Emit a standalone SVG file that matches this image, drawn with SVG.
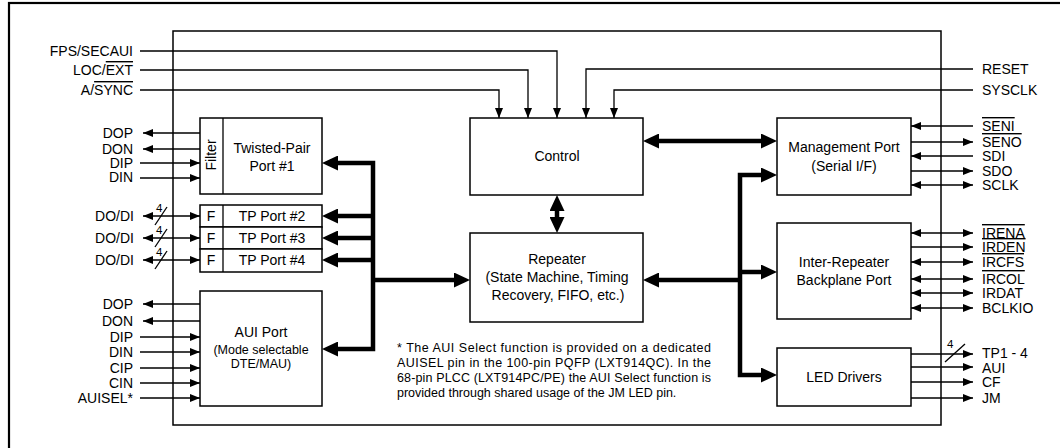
<svg xmlns="http://www.w3.org/2000/svg" width="1060" height="448" viewBox="0 0 1060 448">
<defs>
<style>
text{font-family:"Liberation Sans",Arial,sans-serif;fill:#000}
.lbl{font-size:14px}
.lr{font-size:14px;text-anchor:end}
.bx{font-size:14px;text-anchor:middle}
.sm{font-size:12.5px;text-anchor:middle}
.note{font-size:12.5px}
.n4{font-size:11.5px}
.box{fill:#fff;stroke:#000;stroke-width:1.5}
.thin{fill:none;stroke:#000;stroke-width:1.3}
.thick{fill:none;stroke:#000;stroke-width:4.5}
.ol{text-decoration:overline}
</style>
<marker id="a" viewBox="0 0 10 8" refX="10" refY="4" markerWidth="10" markerHeight="8" markerUnits="userSpaceOnUse" orient="auto-start-reverse"><path d="M0,0 L10,4 L0,8 z" fill="#000"/></marker>
<marker id="A" viewBox="0 0 16 15" refX="8" refY="7.5" markerWidth="16" markerHeight="15" markerUnits="userSpaceOnUse" orient="auto-start-reverse"><path d="M0,0 L16,7.5 L0,15 z" fill="#000"/></marker>
</defs>
<rect width="1060" height="448" fill="#fff"/>
<rect id="frame" x="9" y="3" width="1100" height="500" fill="none" stroke="#000" stroke-width="2.2"/>
<rect id="chip" x="173" y="31" width="768" height="394" fill="none" stroke="#000" stroke-width="1.5"/>

<g id="connectors">
  <path class="thin" d="M140,51 H557 V118" marker-end="url(#a)"/>
  <path class="thin" d="M140,70 H528 V118" marker-end="url(#a)"/>
  <path class="thin" d="M140,90 H499 V118" marker-end="url(#a)"/>
  <path class="thin" d="M973,69 H586 V118" marker-end="url(#a)"/>
  <path class="thin" d="M973,90 H614 V118" marker-end="url(#a)"/>
  <path class="thin" d="M200,133 H143" marker-end="url(#a)"/>
  <path class="thin" d="M200,149 H143" marker-end="url(#a)"/>
  <path class="thin" d="M140,163 H200" marker-end="url(#a)"/>
  <path class="thin" d="M140,178 H200" marker-end="url(#a)"/>
  <path class="thin" d="M143,216 H200" marker-start="url(#a)" marker-end="url(#a)"/>
  <path class="thin" d="M143,238 H200" marker-start="url(#a)" marker-end="url(#a)"/>
  <path class="thin" d="M143,260 H200" marker-start="url(#a)" marker-end="url(#a)"/>
  <line class="thin" x1="155" y1="225" x2="167" y2="207"/>
  <line class="thin" x1="155" y1="247" x2="167" y2="229"/>
  <line class="thin" x1="155" y1="269" x2="167" y2="251"/>
  <path class="thin" d="M200,304 H143" marker-end="url(#a)"/>
  <path class="thin" d="M200,321 H143" marker-end="url(#a)"/>
  <path class="thin" d="M140,337 H200" marker-end="url(#a)"/>
  <path class="thin" d="M140,352 H200" marker-end="url(#a)"/>
  <path class="thin" d="M140,368 H200" marker-end="url(#a)"/>
  <path class="thin" d="M140,383 H200" marker-end="url(#a)"/>
  <path class="thin" d="M140,398 H200" marker-end="url(#a)"/>
  <path class="thin" d="M973,126 H911" marker-end="url(#a)"/>
  <path class="thin" d="M911,142 H973" marker-end="url(#a)"/>
  <path class="thin" d="M973,156 H911" marker-end="url(#a)"/>
  <path class="thin" d="M911,171 H973" marker-end="url(#a)"/>
  <path class="thin" d="M911,185 H973" marker-start="url(#a)" marker-end="url(#a)"/>
  <path class="thin" d="M911,233 H973" marker-start="url(#a)" marker-end="url(#a)"/>
  <path class="thin" d="M911,247 H973" marker-end="url(#a)"/>
  <path class="thin" d="M911,262 H973" marker-start="url(#a)" marker-end="url(#a)"/>
  <path class="thin" d="M911,279 H973" marker-start="url(#a)" marker-end="url(#a)"/>
  <path class="thin" d="M911,293 H973" marker-start="url(#a)" marker-end="url(#a)"/>
  <path class="thin" d="M911,308 H973" marker-start="url(#a)" marker-end="url(#a)"/>
  <path class="thin" d="M911,354 H973" marker-end="url(#a)"/>
  <path class="thin" d="M911,367 H973" marker-end="url(#a)"/>
  <path class="thin" d="M911,382 H973" marker-end="url(#a)"/>
  <path class="thin" d="M911,398 H973" marker-end="url(#a)"/>
  <line class="thin" x1="945" y1="362" x2="965" y2="344"/>
  <path class="thick" d="M330,163 H373 V349 H330" marker-start="url(#A)" marker-end="url(#A)"/>
  <path class="thick" d="M373,216 H330" marker-end="url(#A)"/>
  <path class="thick" d="M373,238 H330" marker-end="url(#A)"/>
  <path class="thick" d="M373,260 H330" marker-end="url(#A)"/>
  <path class="thick" d="M373,280 H462" marker-end="url(#A)"/>
  <path class="thick" d="M740,280 H651" marker-end="url(#A)"/>
  <path class="thick" d="M769,175 H740 V375 H769" marker-start="url(#A)" marker-end="url(#A)"/>
  <path class="thick" d="M740,272 H769" marker-end="url(#A)"/>
  <path class="thick" d="M651,141 H769" marker-start="url(#A)" marker-end="url(#A)"/>
  <path class="thick" d="M557,203 V225" marker-start="url(#A)" marker-end="url(#A)"/>
</g>

<g id="tp1">
  <rect class="box" x="200" y="118" width="122" height="76"/>
  <line class="thin" x1="223" y1="118" x2="223" y2="194" stroke-width="1.5"/>
  <text class="bx" transform="translate(216,155) rotate(-90)">Filter</text>
  <text class="bx" x="272" y="153">Twisted-Pair</text>
  <text class="bx" x="272" y="171">Port #1</text>
</g>
<g id="tp2">
  <rect class="box" x="200" y="205" width="122" height="22"/>
  <line class="thin" x1="223" y1="205" x2="223" y2="227" stroke-width="1.5"/>
  <text class="bx" x="211" y="221">F</text>
  <text class="bx" x="272" y="221">TP Port #2</text>
</g>
<g id="tp3">
  <rect class="box" x="200" y="227" width="122" height="22"/>
  <line class="thin" x1="223" y1="227" x2="223" y2="249" stroke-width="1.5"/>
  <text class="bx" x="211" y="243">F</text>
  <text class="bx" x="272" y="243">TP Port #3</text>
</g>
<g id="tp4">
  <rect class="box" x="200" y="249" width="122" height="23"/>
  <line class="thin" x1="223" y1="249" x2="223" y2="272" stroke-width="1.5"/>
  <text class="bx" x="211" y="265">F</text>
  <text class="bx" x="272" y="265">TP Port #4</text>
</g>
<g id="aui">
  <rect class="box" x="200" y="291" width="122" height="115"/>
  <text class="bx" x="261" y="337">AUI Port</text>
  <text class="sm" x="261" y="354">(Mode selectable</text>
  <text class="sm" x="261" y="368">DTE/MAU)</text>
</g>
<g id="control">
  <rect class="box" x="470" y="118" width="173" height="77"/>
  <text class="bx" x="557" y="161">Control</text>
</g>
<g id="repeater">
  <rect class="box" x="470" y="233" width="173" height="89"/>
  <text class="bx" x="557" y="264">Repeater</text>
  <text class="bx" x="557" y="282">(State Machine, Timing</text>
  <text class="bx" x="558" y="300">Recovery, FIFO, etc.)</text>
</g>
<g id="mgmt">
  <rect class="box" x="777" y="118" width="134" height="77"/>
  <text class="bx" x="844" y="152">Management Port</text>
  <text class="bx" x="844" y="171">(Serial I/F)</text>
</g>
<g id="irb">
  <rect class="box" x="777" y="223" width="134" height="96"/>
  <text class="bx" x="844" y="267">Inter-Repeater</text>
  <text class="bx" x="844" y="285">Backplane Port</text>
</g>
<g id="led">
  <rect class="box" x="777" y="348" width="134" height="58"/>
  <text class="bx" x="844" y="382">LED Drivers</text>
</g>

<g id="labels">
  <text class="lr" x="133" y="56">FPS/SECAUI</text>
  <text class="lr" x="133" y="75">LOC/<tspan class="ol">EXT</tspan></text>
  <text class="lr" x="133" y="95">A/<tspan class="ol">SYNC</tspan></text>
  <text class="lbl" x="982" y="74">RESET</text>
  <text class="lbl" x="982" y="95">SYSCLK</text>
  <text class="lr" x="133" y="138">DOP</text>
  <text class="lr" x="133" y="154">DON</text>
  <text class="lr" x="133" y="168">DIP</text>
  <text class="lr" x="133" y="182">DIN</text>
  <text class="lr" x="134" y="221">DO/DI</text>
  <text class="lr" x="134" y="243">DO/DI</text>
  <text class="lr" x="134" y="265">DO/DI</text>
  <text class="n4" x="156" y="212">4</text>
  <text class="n4" x="156" y="234">4</text>
  <text class="n4" x="156" y="256">4</text>
  <text class="lr" x="133" y="309">DOP</text>
  <text class="lr" x="133" y="326">DON</text>
  <text class="lr" x="133" y="342">DIP</text>
  <text class="lr" x="133" y="357">DIN</text>
  <text class="lr" x="133" y="373">CIP</text>
  <text class="lr" x="133" y="388">CIN</text>
  <text class="lr" x="133" y="403">AUISEL*</text>
  <text class="lbl" x="982" y="131"><tspan class="ol">SENI</tspan></text>
  <text class="lbl" x="982" y="147"><tspan class="ol">SENO</tspan></text>
  <text class="lbl" x="982" y="161">SDI</text>
  <text class="lbl" x="982" y="176">SDO</text>
  <text class="lbl" x="982" y="190">SCLK</text>
  <text class="lbl" x="982" y="238"><tspan class="ol">IRENA</tspan></text>
  <text class="lbl" x="982" y="252"><tspan class="ol">IRDEN</tspan></text>
  <text class="lbl" x="982" y="267"><tspan class="ol">IRCFS</tspan></text>
  <text class="lbl" x="982" y="284"><tspan class="ol">IRCOL</tspan></text>
  <text class="lbl" x="982" y="298">IRDAT</text>
  <text class="lbl" x="982" y="313">BCLKIO</text>
  <text class="n4" x="947" y="348">4</text>
  <text class="lbl" x="982" y="358">TP1 - 4</text>
  <text class="lbl" x="982" y="373">AUI</text>
  <text class="lbl" x="982" y="387">CF</text>
  <text class="lbl" x="982" y="403">JM</text>
</g>

<g id="footnote" xml:space="preserve">
  <text class="note" x="397" y="352" textLength="314" lengthAdjust="spacing">*  The AUI Select function is provided on a dedicated</text>
  <text class="note" x="397" y="367" textLength="314" lengthAdjust="spacing">AUISEL pin in the 100-pin PQFP (LXT914QC).  In the</text>
  <text class="note" x="397" y="382" textLength="314" lengthAdjust="spacing">68-pin PLCC (LXT914PC/PE) the AUI Select function is</text>
  <text class="note" x="397" y="397">provided through shared usage of the JM LED pin.</text>
</g>
</svg>
